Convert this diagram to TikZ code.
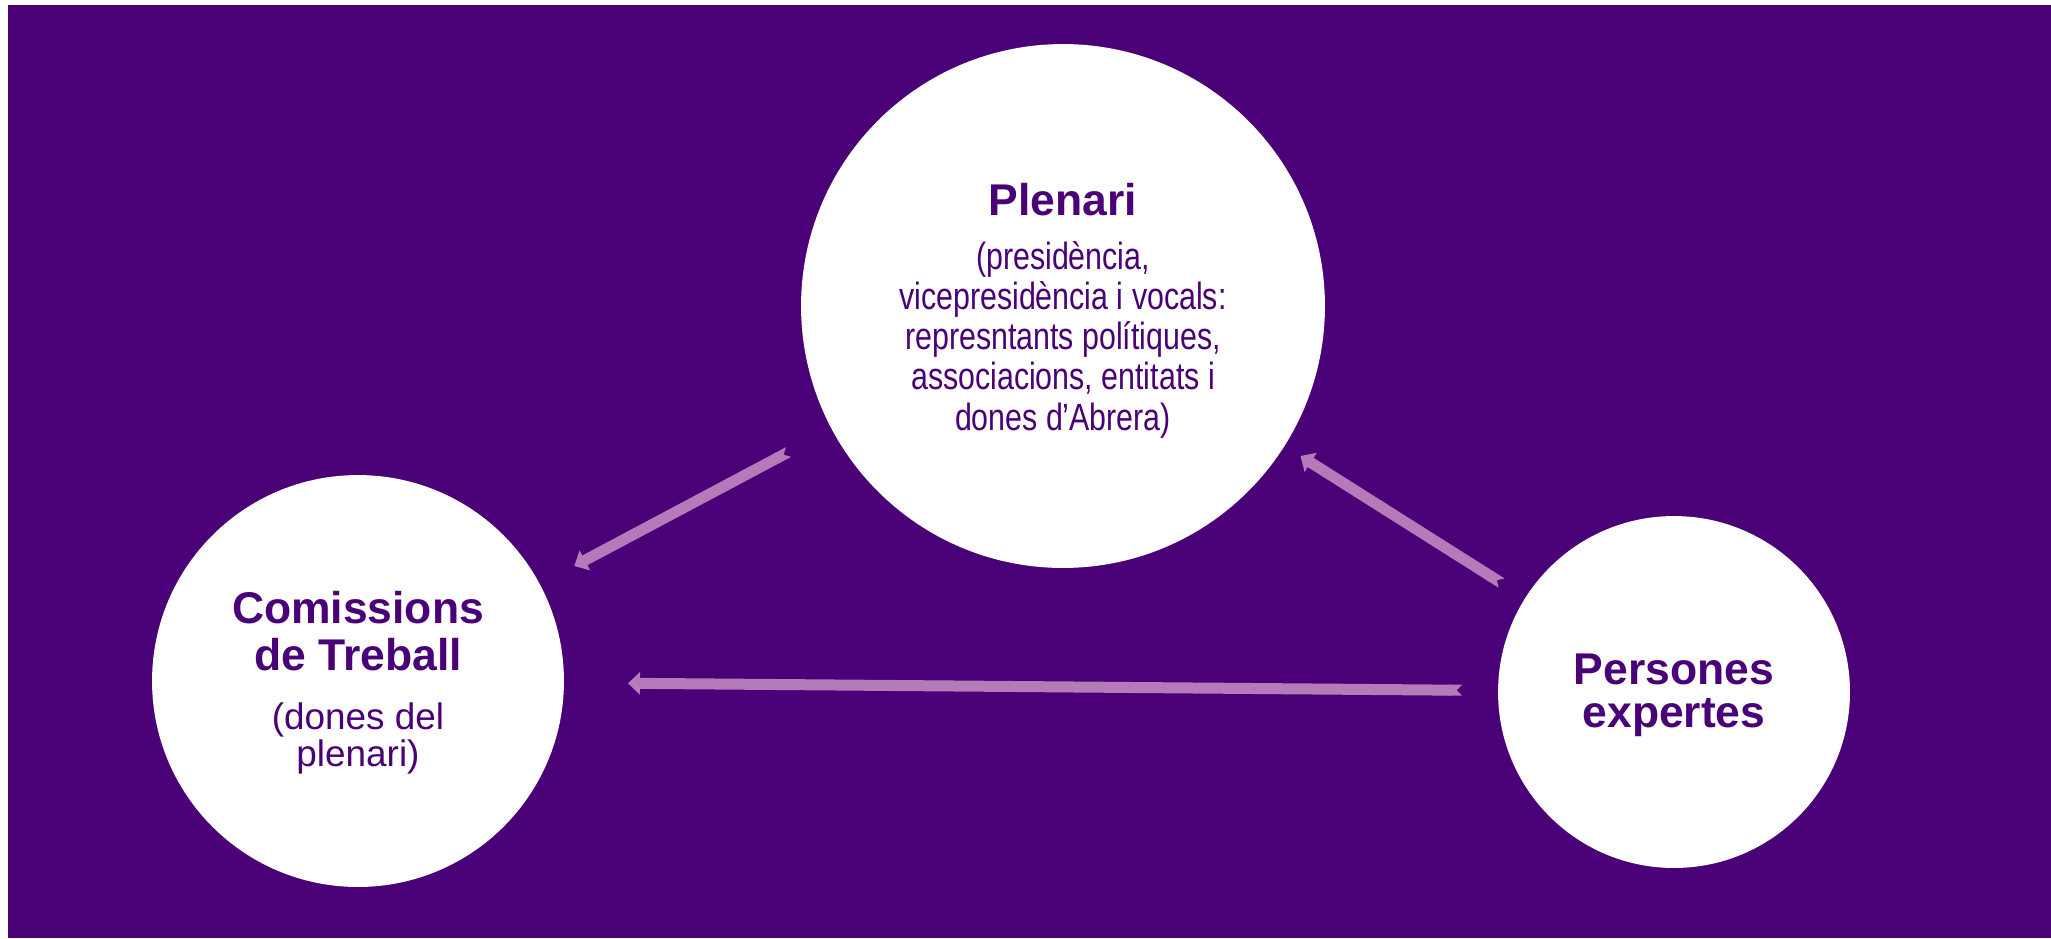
\documentclass[tikz,border=0pt]{standalone}
\usepackage{fontspec}
\setmainfont{Liberation Sans}
\newfontfamily\narrowfont{Liberation Sans}[FakeStretch=0.80]
\usetikzlibrary{arrows.meta}

\definecolor{deeppurple}{HTML}{4A0077}
\definecolor{lilac}{HTML}{B57ABA}

\begin{document}
\begin{tikzpicture}[x=0.02cm,y=-0.02cm,
                    bubble/.style={circle,fill=white,inner sep=0pt,outer sep=0pt},
                    heading/.style={text=deeppurple,align=center,anchor=base,
                                    font=\fontsize{25.3}{26.2}\selectfont\bfseries},
                    subtext/.style={text=deeppurple,align=center,anchor=base},
                    link/.style={lilac,line width=0.22cm,
                                 {Triangle Cap[reversed]}-{Triangle[width=0.44cm,length=0.24cm]}}]

  \useasboundingbox (0,0) rectangle (2051,938);
  \fill[deeppurple] (8,5) rectangle (2051,938);

  \node[bubble,minimum size=10.48cm] (plenari)    at (1063,306) {};
  \node[bubble,minimum size=8.24cm]  (comissions) at (358,681)  {};
  \node[bubble,minimum size=7.04cm]  (persones)   at (1674,692) {};

  % texts (base = last line)
  \node[heading] (plenari title) at (1063,215) {Plenari};
  \node[subtext,font=\narrowfont\fontsize{21.6}{22.8}\selectfont] (plenari text) at (1063,430)
    {(presidència,\\vicepresidència i vocals:\\represntants polítiques,\\associacions, entitats i\\dones d’Abrera)};
  \node[heading] (comissions title) at (358,670) {Comissions\\de Treball};
  \node[subtext,font=\fontsize{21}{17}\selectfont] (comissions text) at (358,766) {(dones del\\plenari)};
  \node[heading,font=\fontsize{25.3}{24}\selectfont\bfseries] (persones title) at (1674,727) {Persones\\expertes};

  \draw[link,shorten <=0.98cm,shorten >=0.78cm] (plenari) -- (comissions);
  \draw[link,shorten <=0.56cm,shorten >=0.38cm] (persones) -- (plenari);
  \draw[link,shorten <=0.72cm,shorten >=1.28cm] (persones) -- (comissions);
\end{tikzpicture}
\end{document}
